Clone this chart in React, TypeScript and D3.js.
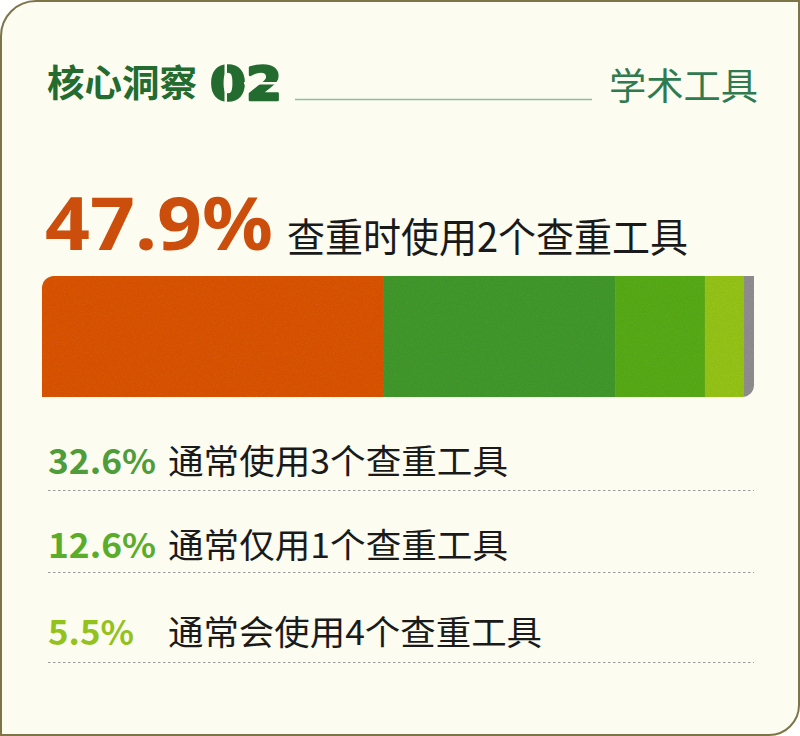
import React, { useEffect, useRef } from "react";
import * as d3 from "d3";

// share of respondents by number of plagiarism-check tools used
const shares = [47.9, 32.6, 12.6, 5.5, 1.4];
const shareColors = ["#da540f", "#42992f", "#59ab1c", "#95c41d", "#908e90"];
const headline = { value: "47.9%", label: "查重时使用2个查重工具" };
const rowValues = ["32.6%", "12.6%", "5.5%"];
const rowLabels = ["通常使用3个查重工具", "通常仅用1个查重工具", "通常会使用4个查重工具"];
const rowColors = ["#4f9c3a", "#5aad2a", "#93c21c"];

const FONT = "'Noto Sans CJK SC', 'Noto Sans', sans-serif";
const BG = "#fcfcf0";

const App = () => {
  const ref: any = useRef(null);
  const width = 800;
  const height = 736;

  useEffect(() => {
    const svg = d3
      .select(ref.current)
      .append("svg")
      .attr("width", width)
      .attr("height", height)
      .attr("viewBox", `0 0 ${width} ${height}`)
      .style("position", "absolute")
      .style("left", "0px")
      .style("top", "0px");

    // card with rounded top-left and bottom-right corners
    const r1 = 35;
    const r2 = 30;
    const cardPath = d3.path();
    cardPath.moveTo(1 + r1, 1);
    cardPath.lineTo(width - 1, 1);
    cardPath.lineTo(width - 1, height - 1 - r2);
    cardPath.arcTo(width - 1, height - 1, width - 1 - r2, height - 1, r2);
    cardPath.lineTo(1, height - 1);
    cardPath.lineTo(1, 1 + r1);
    cardPath.arcTo(1, 1, 1 + r1, 1, r1);
    cardPath.closePath();
    svg
      .append("path")
      .attr("d", cardPath.toString())
      .attr("fill", BG)
      .attr("stroke", "#7d7448")
      .attr("stroke-width", 2);

    // header
    svg
      .append("text")
      .attr("x", 47)
      .attr("y", 97)
      .attr("font-family", FONT)
      .attr("font-size", 37)
      .attr("font-weight", 700)
      .attr("fill", "#236b2f")
      .attr("textLength", 150)
      .attr("lengthAdjust", "spacingAndGlyphs")
      .text("核心洞察");
    svg
      .append("text")
      .attr("x", 210)
      .attr("y", 100)
      .attr("font-family", "'DejaVu Sans', sans-serif")
      .attr("font-size", 47)
      .attr("font-weight", 700)
      .attr("fill", "#236b2f")
      .attr("stroke", "#236b2f")
      .attr("stroke-width", 2.5)
      .attr("stroke-linejoin", "round")
      .attr("textLength", 72)
      .attr("lengthAdjust", "spacingAndGlyphs")
      .text("02");
    // stencil cuts through the "02"
    svg.append("rect").attr("x", 224.5).attr("y", 62).attr("width", 2.5).attr("height", 42).attr("fill", BG);
    svg.append("rect").attr("x", 244).attr("y", 82).attr("width", 42).attr("height", 2.5).attr("fill", BG);
    svg
      .append("line")
      .attr("x1", 295)
      .attr("x2", 592)
      .attr("y1", 99.5)
      .attr("y2", 99.5)
      .attr("stroke", "#8dbf9f")
      .attr("stroke-width", 1.5);
    svg
      .append("text")
      .attr("x", 609)
      .attr("y", 100)
      .attr("font-family", FONT)
      .attr("font-size", 37)
      .attr("fill", "#2f7a4f")
      .attr("textLength", 149)
      .attr("lengthAdjust", "spacingAndGlyphs")
      .text("学术工具");

    // headline
    svg
      .append("text")
      .attr("x", 45)
      .attr("y", 250)
      .attr("font-family", "'Noto Sans', sans-serif")
      .attr("font-size", 74)
      .attr("font-weight", 700)
      .attr("fill", "#cc4e0c")
      .attr("textLength", 228)
      .attr("lengthAdjust", "spacingAndGlyphs")
      .text(headline.value);
    svg
      .append("text")
      .attr("x", 287)
      .attr("y", 252)
      .attr("font-family", FONT)
      .attr("font-size", 40)
      .attr("fill", "#1a1a1a")
      .attr("textLength", 401)
      .attr("lengthAdjust", "spacingAndGlyphs")
      .text(headline.label);

    // stacked bar
    const barTop = 276;
    const barBottom = 397;
    const xScale = d3.scaleLinear().domain([0, d3.sum(shares)]).range([42, 754]);
    const starts = shares.map((_, i) => d3.sum(shares.slice(0, i)));
    const [x0, x1] = xScale.range();

    const clipR = 12;
    const clip = d3.path();
    clip.moveTo(x0 + clipR, barTop);
    clip.lineTo(x1, barTop);
    clip.lineTo(x1, barBottom - clipR);
    clip.arcTo(x1, barBottom, x1 - clipR, barBottom, clipR);
    clip.lineTo(x0, barBottom);
    clip.lineTo(x0, barTop + clipR);
    clip.arcTo(x0, barTop, x0 + clipR, barTop, clipR);
    clip.closePath();

    const defs = svg.append("defs");
    defs.append("clipPath").attr("id", "barClip").append("path").attr("d", clip.toString());
    const grain = defs.append("filter").attr("id", "grain").attr("x", 0).attr("y", 0).attr("width", 1).attr("height", 1);
    grain
      .append("feTurbulence")
      .attr("type", "fractalNoise")
      .attr("baseFrequency", 1.1)
      .attr("numOctaves", 2)
      .attr("seed", 3)
      .attr("result", "noise");
    grain
      .append("feColorMatrix")
      .attr("in", "noise")
      .attr("type", "matrix")
      .attr("values", "0 0 0 0 0  0 0 0 0 0  0 0 0 0 0  0 0 0 0.22 -0.06")
      .attr("result", "dark");
    grain.append("feComposite").attr("in", "dark").attr("in2", "SourceGraphic").attr("operator", "in").attr("result", "dk");
    grain.append("feMerge").call((m: any) => {
      m.append("feMergeNode").attr("in", "SourceGraphic");
      m.append("feMergeNode").attr("in", "dk");
    });

    svg
      .append("g")
      .attr("clip-path", "url(#barClip)")
      .append("g")
      .attr("filter", "url(#grain)")
      .selectAll("rect")
      .data(shares)
      .join("rect")
      .attr("x", (_, i) => xScale(starts[i]))
      .attr("y", barTop)
      .attr("width", (d, i) => xScale(starts[i] + d) - xScale(starts[i]) + 0.5)
      .attr("height", barBottom - barTop)
      .attr("fill", (_, i) => shareColors[i]);

    // list rows
    const baselines = [474, 558, 645];
    const dividers = [490.5, 572.5, 662.5];
    const valueWidths = [108, 108, 86];
    const rows = svg
      .append("g")
      .selectAll("g")
      .data(rowValues)
      .join("g");
    rows
      .append("text")
      .attr("x", 48)
      .attr("y", (_, i) => baselines[i])
      .attr("font-family", FONT)
      .attr("font-size", 34)
      .attr("font-weight", 700)
      .attr("fill", (_, i) => rowColors[i])
      .attr("textLength", (_, i) => valueWidths[i])
      .attr("lengthAdjust", "spacingAndGlyphs")
      .text((d) => d);
    rows
      .append("text")
      .attr("x", 168)
      .attr("y", (_, i) => baselines[i])
      .attr("font-family", FONT)
      .attr("font-size", 34)
      .attr("fill", "#1a1a1a")
      .attr("textLength", (_, i) => (i === 2 ? 374 : 340))
      .attr("lengthAdjust", "spacingAndGlyphs")
      .text((_, i) => rowLabels[i]);
    rows
      .append("line")
      .attr("x1", 48)
      .attr("x2", 754)
      .attr("y1", (_, i) => dividers[i])
      .attr("y2", (_, i) => dividers[i])
      .attr("stroke", "#9a9a9a")
      .attr("stroke-width", 1.2)
      .attr("stroke-dasharray", "2.5 2.5");

    return () => {
      svg.remove();
    };
  }, []);

  return <div id="chart" ref={ref}></div>;
};

export default App;
